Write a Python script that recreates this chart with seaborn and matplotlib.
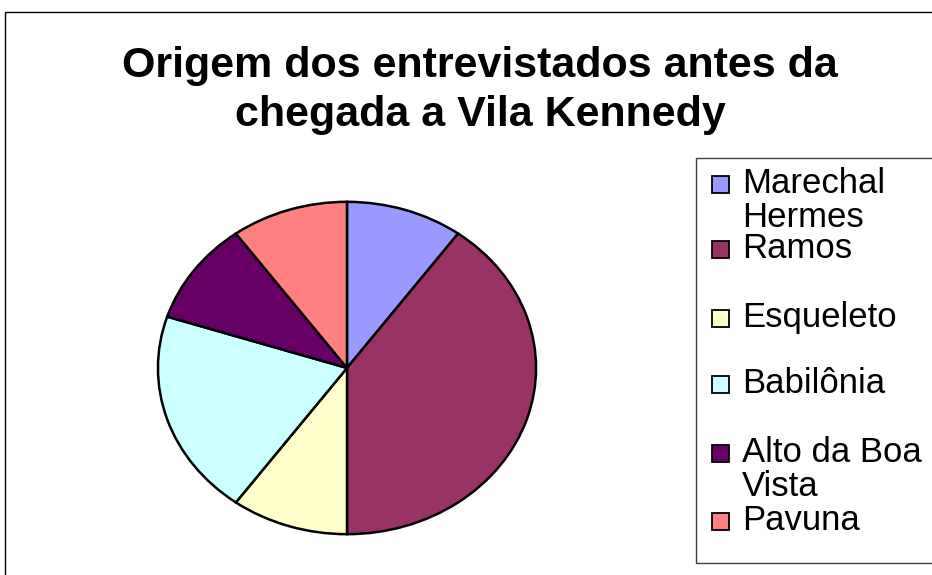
import matplotlib
matplotlib.use("Agg")
import matplotlib.pyplot as plt
from matplotlib.patches import Rectangle
import seaborn as sns

# Data (shares of interviewees, out of 10)
origins = ["Marechal Hermes", "Ramos", "Esqueleto", "Babilônia", "Alto da Boa Vista", "Pavuna"]
legendLabels = ["Marechal\nHermes", "Ramos", "Esqueleto", "Babilônia", "Alto da Boa\nVista", "Pavuna"]
counts = [1, 4, 1, 2, 1, 1]
colors = ["#9999FF", "#993366", "#FFFFCC", "#CCFFFF", "#660066", "#FF8080"]

sns.set_style("white")
plt.rcParams['font.family'] = ['Liberation Sans', 'DejaVu Sans']
plt.rcParams['text.color'] = 'black'

W, H = 932, 575
fig = plt.figure(figsize=(W / 100, H / 100), dpi=100)
fig.patch.set_facecolor("white")

#Pie axes, stretched so the pie is an ellipse like the original
cx, cy, rx, ry = 347, 368, 190, 167
ax = fig.add_axes([(cx - rx) / W, 1 - (cy + ry) / H, 2 * rx / W, 2 * ry / H])
sns.set_palette(colors)
ax.pie(counts, colors=colors, startangle=90, counterclock=False,
       wedgeprops={"edgecolor": "black", "linewidth": 1.8})
ax.set_aspect("auto")
ax.set_xlim(-1.005, 1.005)
ax.set_ylim(-1.005, 1.005)
ax.axis("off")

#Title
fig.text(480 / W, 1 - 77 / H, "Origem dos entrevistados antes da", ha="center",
         va="baseline", fontsize=31, fontweight="bold", color="black")
fig.text(480 / W, 1 - 126 / H, "chegada a Vila Kennedy", ha="center",
         va="baseline", fontsize=31, fontweight="bold", color="black")

#Outer chart frame
fig.patches.append(Rectangle((5 / W, -0.05), 1.1, 1 - 12 / H + 0.05, transform=fig.transFigure,
                             fill=False, edgecolor="black", linewidth=1.0))

#Legend frame and entries
fig.patches.append(Rectangle((696 / W, 1 - 563 / H), 1.0, (563 - 158) / H, transform=fig.transFigure,
                             fill=False, edgecolor="#404040", linewidth=1.0))
baselines = [193, 258, 327, 393, 462, 530]
for lab, col, yb in zip(legendLabels, colors, baselines):
    fig.patches.append(Rectangle((712 / W, 1 - yb / H), 17 / W, 17 / H, transform=fig.transFigure,
                                 facecolor=col, edgecolor="black", linewidth=1.3))
    lines = lab.split("\n")
    for i, line in enumerate(lines):
        fig.text(742 / W, 1 - (yb + 34 * i) / H, line, ha="left", va="baseline",
                 fontsize=25, color="black")

fig.savefig("out.png", dpi=100)
